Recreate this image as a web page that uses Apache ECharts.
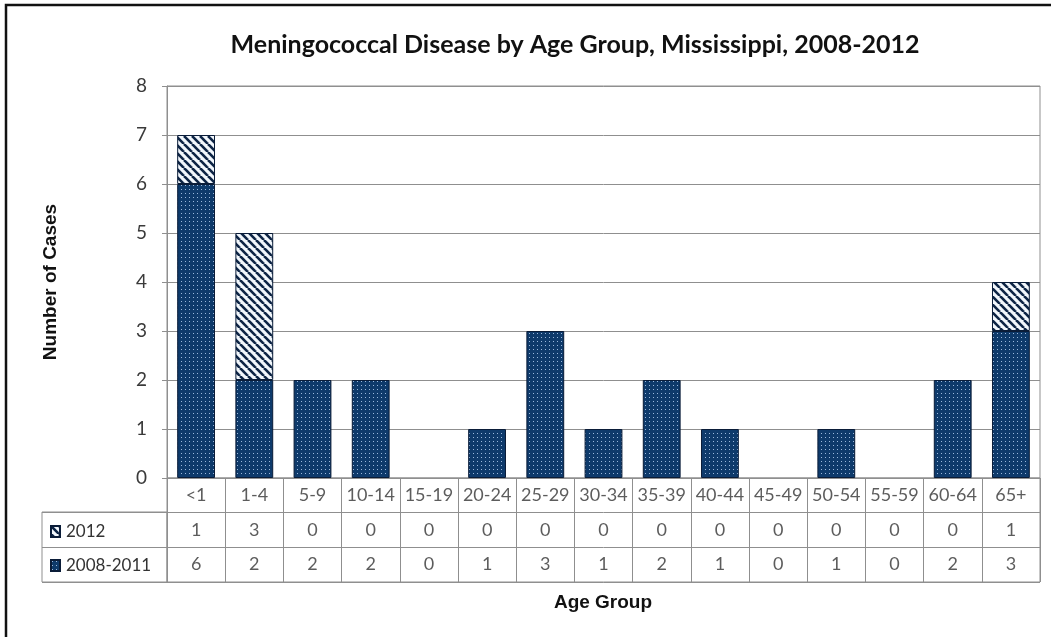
<!DOCTYPE html>
<html>
<head>
<meta charset="utf-8">
<title>Meningococcal Disease by Age Group</title>
<script src="https://cdn.jsdelivr.net/npm/echarts@6/dist/echarts.min.js"></script>
<style>
  html, body { margin: 0; padding: 0; background: #fff; }
  #chart { width: 1051px; height: 637px; }
</style>
</head>
<body>
<div id="chart"></div>
<script>
// Age groups and case counts
const ageGroups = ['<1', '1-4', '5-9', '10-14', '15-19', '20-24', '25-29', '30-34',
                   '35-39', '40-44', '45-49', '50-54', '55-59', '60-64', '65+'];
const cases2008to2011 = [6, 2, 2, 2, 0, 1, 3, 1, 2, 1, 0, 1, 0, 2, 3];
const cases2012 = [1, 3, 0, 0, 0, 0, 0, 0, 0, 0, 0, 0, 0, 0, 1];
const yTicks = { min: 0, max: 8, interval: 1 };

const FONT = 'Lato, "Open Sans", sans-serif';
const NAVY = '#0e3a6b';
const EDGE = '#0a1c38';

// Fill patterns: navy with small light dots, white with dark diagonal hatching
function dotPattern() {
  const c = document.createElement('canvas');
  c.width = 4; c.height = 4;
  const g = c.getContext('2d');
  g.fillStyle = NAVY; g.fillRect(0, 0, 4, 4);
  g.fillStyle = '#9bb8dc'; g.fillRect(1, 1, 1, 1);
  return c;
}
function hatchPattern() {
  const s = 8;
  const c = document.createElement('canvas');
  c.width = s; c.height = s;
  const g = c.getContext('2d');
  g.fillStyle = '#f2f7fc'; g.fillRect(0, 0, s, s);
  g.strokeStyle = '#0d2445'; g.lineWidth = 2.6;
  for (const o of [-s, 0, s]) {
    g.beginPath(); g.moveTo(o, 0); g.lineTo(o + s, s); g.stroke();
  }
  return c;
}
const dotFill = { image: dotPattern(), repeat: 'repeat' };
const hatchFill = { image: hatchPattern(), repeat: 'repeat' };

// Data table cells: header row (2), 2012 row (1), 2008-2011 row (0)
const tableCells = [];
ageGroups.forEach((g, i) => {
  tableCells.push([i, 2, g]);
  tableCells.push([i, 1, String(cases2012[i])]);
  tableCells.push([i, 0, String(cases2008to2011[i])]);
});

const GRID_LINE = '#8f8f8f';
const chart = echarts.init(document.getElementById('chart'));
chart.setOption({
  animation: false,
  backgroundColor: '#fff',
  graphic: [
    { type: 'rect', shape: { x: 6, y: 5, width: 1200, height: 800 },
      style: { fill: 'none', stroke: '#111', lineWidth: 2.5 }, silent: true },
    { type: 'text', x: 575, y: 45,
      style: { text: 'Meningococcal Disease by Age Group, Mississippi, 2008-2012',
               font: 'bold 25px ' + FONT, fill: '#111', align: 'center', verticalAlign: 'middle' } },
    { type: 'text', x: 603, y: 603,
      style: { text: 'Age Group', font: 'bold 19px "Liberation Sans", Arial, sans-serif',
               fill: '#111', align: 'center', verticalAlign: 'middle' } }
  ],
  legend: {
    orient: 'vertical', left: 45, top: 518, itemGap: 17,
    itemWidth: 9, itemHeight: 11, icon: 'rect',
    data: ['2012', '2008-2011'],
    textStyle: { fontFamily: FONT, fontSize: 17, color: '#333', padding: [0, 0, 0, 1] },
    selectedMode: false
  },
  grid: [
    { left: 167, right: 11, top: 86, height: 392, show: true, borderColor: GRID_LINE, borderWidth: 1 },
    { left: 167, right: 11, top: 478, height: 104, show: true, borderColor: GRID_LINE, borderWidth: 1 },
    { left: 42, width: 125, top: 512, height: 70, show: true, borderColor: GRID_LINE, borderWidth: 1 }
  ],
  xAxis: [
    { gridIndex: 0, type: 'category', data: ageGroups,
      axisLine: { lineStyle: { color: GRID_LINE } }, axisTick: { show: false },
      axisLabel: { show: false } },
    { gridIndex: 1, type: 'category', data: ageGroups,
      axisLine: { show: false }, axisTick: { show: false }, axisLabel: { show: false },
      splitLine: { show: true, interval: 0, lineStyle: { color: GRID_LINE } } },
    { gridIndex: 2, type: 'value', min: 0, max: 1, show: false }
  ],
  yAxis: [
    { gridIndex: 0, type: 'value', min: yTicks.min, max: yTicks.max, interval: yTicks.interval,
      name: 'Number of Cases', nameLocation: 'middle', nameGap: 107, nameRotate: 90,
      nameTextStyle: { fontFamily: '"Liberation Sans", Arial, sans-serif', fontWeight: 'bold',
                       fontSize: 19, color: '#111' },
      axisLine: { show: true, lineStyle: { color: GRID_LINE } },
      axisTick: { show: true, length: 5, lineStyle: { color: GRID_LINE } },
      axisLabel: { fontFamily: FONT, fontSize: 19, color: '#3a3a3a', margin: 20 },
      splitLine: { show: true, lineStyle: { color: GRID_LINE } } },
    { gridIndex: 1, type: 'category', data: ['r0', 'r1', 'r2'],
      axisLine: { show: false }, axisTick: { show: false }, axisLabel: { show: false },
      splitLine: { show: true, interval: 0, lineStyle: { color: GRID_LINE } } },
    { gridIndex: 2, type: 'category', data: ['r0', 'r1'],
      axisLine: { show: false }, axisTick: { show: false }, axisLabel: { show: false },
      splitLine: { show: true, interval: 0, lineStyle: { color: GRID_LINE } } }
  ],
  series: [
    { name: '2008-2011', type: 'bar', stack: 'cases', xAxisIndex: 0, yAxisIndex: 0,
      barCategoryGap: '35%',
      data: cases2008to2011.map(v => (v === 0 ? null : v)),
      itemStyle: { color: dotFill, borderColor: EDGE, borderWidth: 1 } },
    { name: '2012', type: 'bar', stack: 'cases', xAxisIndex: 0, yAxisIndex: 0,
      barCategoryGap: '35%',
      data: cases2012.map(v => (v === 0 ? null : v)),
      itemStyle: { color: hatchFill, borderColor: EDGE, borderWidth: 1 } },
    { name: 'table', type: 'scatter', xAxisIndex: 1, yAxisIndex: 1,
      symbolSize: 0, silent: true, data: tableCells,
      label: { show: true, position: 'inside', formatter: p => p.value[2],
               fontFamily: FONT, fontSize: 18, color: '#333' } }
  ]
});
</script>
</body>
</html>
